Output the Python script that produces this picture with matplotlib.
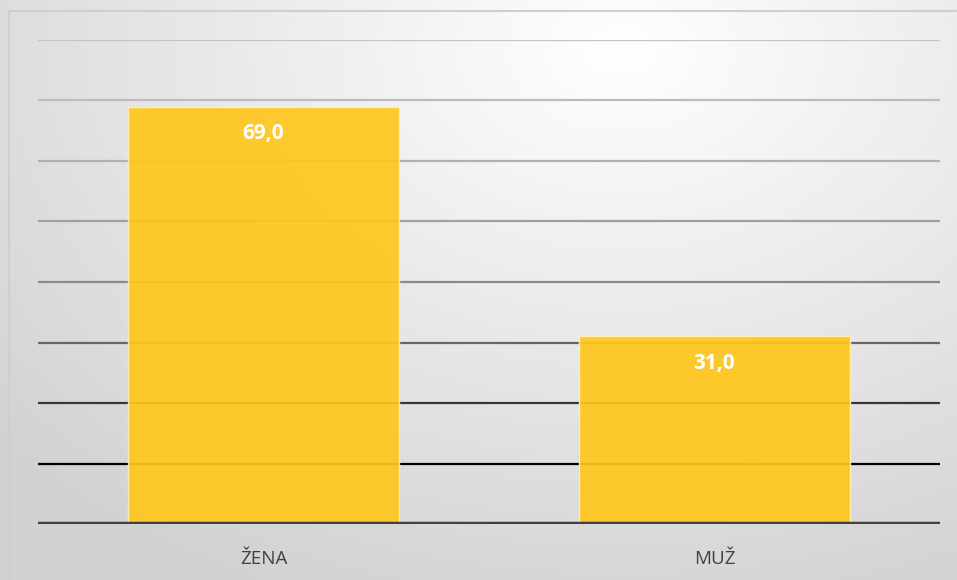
import numpy as np
import matplotlib
matplotlib.use("Agg")
import matplotlib.pyplot as plt
from matplotlib.patches import Rectangle

categories = ["ŽENA", "MUŽ"]
values = [69.0, 31.0]
grid_values = [10, 20, 30, 40, 50, 60, 70, 80]

grid_colors = ["#000000", "#363636", "#666666", "#8a8a8a", "#a0a0a0", "#b0b0b0", "#bcbcbc", "#c4c4c4"]

W, H = 957, 580
fig = plt.figure(figsize=(W / 100, H / 100), dpi=100)

# background radial gradient
bg = fig.add_axes([0, 0, 1, 1], zorder=0)
yy, xx = np.mgrid[0:H, 0:W]
cx, cy = 620, 50
d = np.sqrt(((xx - cx) / 850.0) ** 2 + ((yy - cy) / 600.0) ** 2)
d = np.clip(d, 0, 1)
val = 1.0 - 0.18 * d
img = np.dstack([val, val, val])
bg.imshow(img, extent=[0, W, H, 0], aspect="auto", interpolation="bilinear")
bg.set_xlim(0, W)
bg.set_ylim(H, 0)
bg.axis("off")
bg.add_patch(Rectangle((8.5, 10.5), W + 20, H + 20, fill=False, edgecolor="#cfcfcf", linewidth=1.5))

ax = fig.add_axes([38 / W, 56 / H, (940 - 38) / W, (540 - 56) / H], zorder=1)
ax.patch.set_alpha(0)
x = np.arange(len(categories))
ax.set_xlim(-0.5, len(categories) - 0.5)
ax.set_ylim(0, 80)

for gv, gc in zip(grid_values, grid_colors):
    ax.axhline(gv, color=gc, linewidth=1.6, zorder=1)
ax.axhline(0, color="#404040", linewidth=3.2, zorder=3)

bars = ax.bar(x, values, width=0.603, color="#FFC61C", alpha=0.92,
              edgecolor="#fff0b8", linewidth=1.0, zorder=2)

for xi, v in zip(x, values):
    ax.annotate(f"{v:.1f}".replace(".", ","), (xi, v), xytext=(0, -27),
                textcoords="offset pixels",
                ha="center", va="center", color="white", fontsize=15,
                fontweight="bold", family="Open Sans", zorder=4)

for s in ax.spines.values():
    s.set_visible(False)
ax.set_yticks([])
ax.set_xticks(x)
ax.set_xticklabels(categories, fontsize=13.5, color="#404040", family="Open Sans")
ax.tick_params(axis="x", length=0, pad=19)

fig.savefig("out.png", dpi=100)
